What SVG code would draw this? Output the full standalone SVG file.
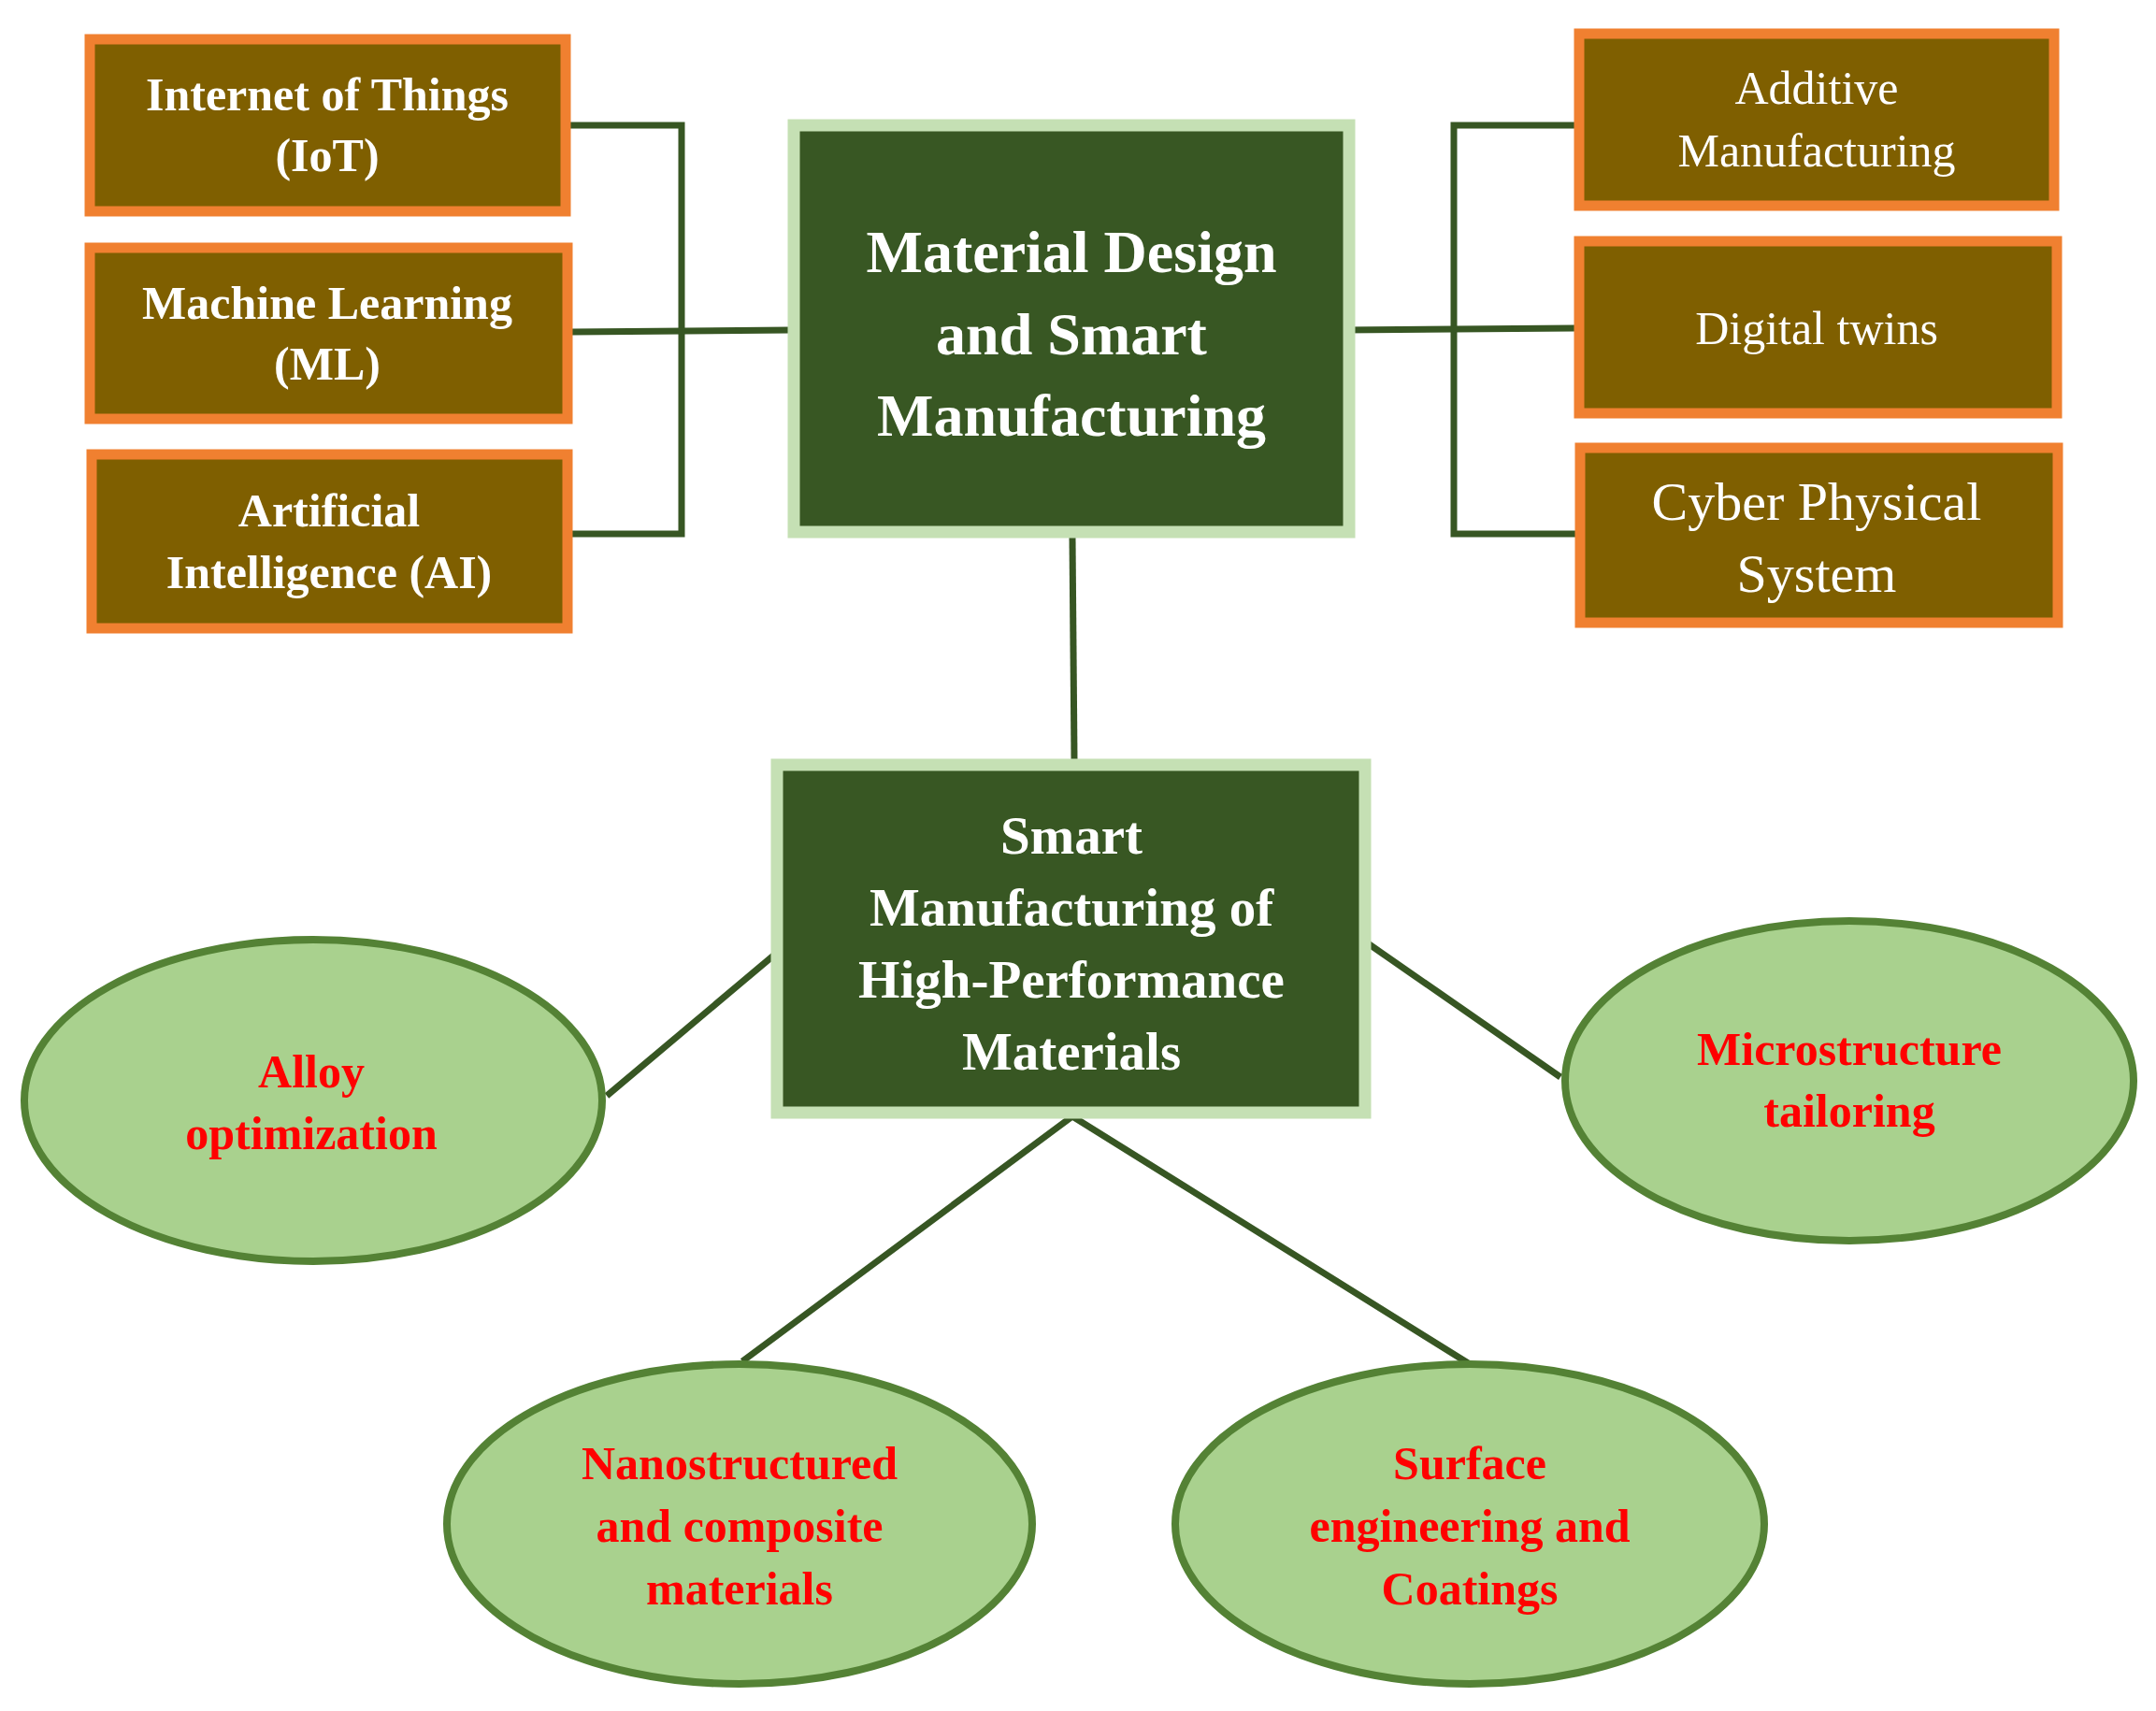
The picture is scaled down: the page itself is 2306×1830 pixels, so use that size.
<svg xmlns="http://www.w3.org/2000/svg" width="2306" height="1830" viewBox="0 0 2306 1830">
<style>
.ob{fill:#7f5f00;stroke:#f08030;stroke-width:11}
.cb{fill:#385723;stroke:#c5e0b4;stroke-width:13}
.el{fill:#a9d18e;stroke:#548235;stroke-width:8}
.ln{stroke:#375623;stroke-width:7;fill:none}
.tb{font-family:"Liberation Serif",serif;font-weight:bold;fill:#fff;text-anchor:middle}
.tr{font-family:"Liberation Serif",serif;fill:#fff;text-anchor:middle}
.tred{font-family:"Liberation Serif",serif;font-weight:bold;fill:#ff0000;text-anchor:middle;font-size:50px}
</style>
<rect width="2306" height="1830" fill="#fff"/>
<g id="connectors">
<polyline class="ln" points="610,134 729,134 729,571 612,571"/>
<line class="ln" x1="612" y1="355" x2="846" y2="353"/>
<polyline class="ln" points="1684,134 1555,134 1555,571 1685,571"/>
<line class="ln" x1="1437" y1="353" x2="1684" y2="351"/>
<line class="ln" x1="1147" y1="575" x2="1149" y2="812"/>
<line class="ln" x1="649" y1="1172" x2="832" y2="1018"/>
<line class="ln" x1="1463" y1="1009" x2="1669" y2="1152"/>
<polyline class="ln" points="794,1456 1147,1194 1572,1459"/>
</g>
<g id="iot"><rect class="ob" x="96" y="42" width="509" height="184"/>
<text class="tb" font-size="50" x="350" y="118">Internet of Things</text><text class="tb" font-size="50" x="350" y="183">(IoT)</text></g>
<g id="ml"><rect class="ob" x="96" y="265" width="511" height="183"/>
<text class="tb" font-size="50" x="350" y="341">Machine Learning</text><text class="tb" font-size="50" x="350" y="406">(ML)</text></g>
<g id="ai"><rect class="ob" x="98" y="486" width="509" height="186"/>
<text class="tb" font-size="50" x="352" y="563">Artificial</text><text class="tb" font-size="50" x="352" y="629">Intelligence (AI)</text></g>
<g id="am"><rect class="ob" x="1689" y="36" width="508" height="184"/>
<text class="tr" font-size="50" x="1943" y="111">Additive</text><text class="tr" font-size="50" x="1943" y="178">Manufacturing</text></g>
<g id="dt"><rect class="ob" x="1689" y="258" width="511" height="184"/>
<text class="tr" font-size="50" x="1943" y="368">Digital twins</text></g>
<g id="cps"><rect class="ob" x="1690" y="479" width="511" height="187"/>
<text class="tr" font-size="58" x="1943" y="556">Cyber Physical</text><text class="tr" font-size="58" x="1943" y="633">System</text></g>
<g id="main"><rect class="cb" x="849" y="134" width="594" height="435"/>
<text class="tb" font-size="64" x="1146" y="291">Material Design</text><text class="tb" font-size="64" x="1146" y="379">and Smart</text><text class="tb" font-size="64" x="1146" y="466">Manufacturing</text></g>
<g id="smart"><rect class="cb" x="831" y="818" width="629" height="372"/>
<text class="tb" font-size="57" x="1146" y="913">Smart</text><text class="tb" font-size="57" x="1146" y="990">Manufacturing of</text><text class="tb" font-size="57" x="1146" y="1067">High-Performance</text><text class="tb" font-size="57" x="1146" y="1144">Materials</text></g>
<g id="alloy"><ellipse class="el" cx="335" cy="1177" rx="309" ry="172"/>
<text class="tred" x="333" y="1163">Alloy</text><text class="tred" x="333" y="1229">optimization</text></g>
<g id="micro"><ellipse class="el" cx="1978" cy="1156" rx="304" ry="171"/>
<text class="tred" x="1978" y="1139">Microstructure</text><text class="tred" x="1978" y="1205">tailoring</text></g>
<g id="nano"><ellipse class="el" cx="791" cy="1630" rx="313" ry="171"/>
<text class="tred" x="791" y="1582">Nanostructured</text><text class="tred" x="791" y="1649">and composite</text><text class="tred" x="791" y="1716">materials</text></g>
<g id="surface"><ellipse class="el" cx="1572" cy="1630" rx="315" ry="171"/>
<text class="tred" x="1572" y="1582">Surface</text><text class="tred" x="1572" y="1649">engineering and</text><text class="tred" x="1572" y="1716">Coatings</text></g>
</svg>
